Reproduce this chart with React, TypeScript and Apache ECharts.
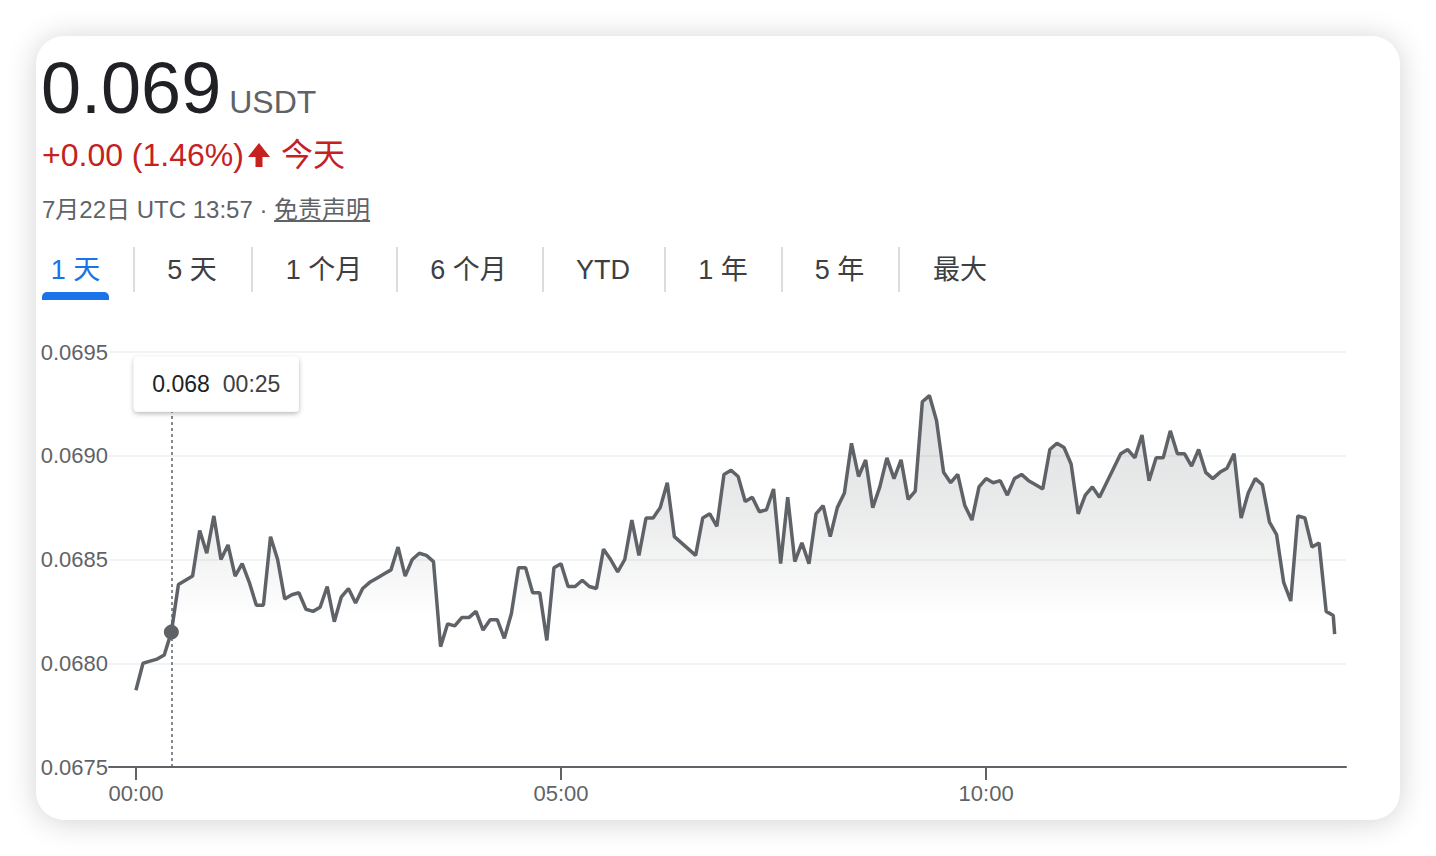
import { useEffect, useRef } from 'react';
import * as echarts from 'echarts';

// 5-minute quotes from 00:00 UTC
const prices = [
  0.06787, 0.06800, 0.06801, 0.06802, 0.06804, 0.06815, 0.06838, 0.06840, 0.06842, 0.06864,
  0.06853, 0.06871, 0.06850, 0.06857, 0.06842, 0.06848, 0.06839, 0.06828, 0.06828, 0.06861,
  0.06850, 0.06831, 0.06833, 0.06834, 0.06826, 0.06825, 0.06827, 0.06837, 0.06820, 0.06832,
  0.06836, 0.06829, 0.06836, 0.06839, 0.06841, 0.06843, 0.06845, 0.06856, 0.06842, 0.06850,
  0.06853, 0.06852, 0.06849, 0.06808, 0.06819, 0.06818, 0.06822, 0.06822, 0.06825, 0.06816,
  0.06821, 0.06821, 0.06812, 0.06824, 0.06846, 0.06846, 0.06834, 0.06834, 0.06811, 0.06846,
  0.06848, 0.06837, 0.06837, 0.06840, 0.06837, 0.06836, 0.06855, 0.06850, 0.06844, 0.06850,
  0.06869, 0.06852, 0.06870, 0.06870, 0.06875, 0.06887, 0.06861, 0.06858, 0.06855, 0.06852,
  0.06870, 0.06872, 0.06866, 0.06891, 0.06893, 0.06890, 0.06878, 0.06880, 0.06873, 0.06874,
  0.06884, 0.06848, 0.06880, 0.06849, 0.06858, 0.06848, 0.06872, 0.06876, 0.06861, 0.06875,
  0.06882, 0.06906, 0.06890, 0.06898, 0.06875, 0.06885, 0.06899, 0.06889, 0.06898, 0.06879,
  0.06883, 0.06926, 0.06929, 0.06917, 0.06892, 0.06887, 0.06891, 0.06876, 0.06869, 0.06885,
  0.06889, 0.06887, 0.06888, 0.06881, 0.06889, 0.06891, 0.06888, 0.06886, 0.06884, 0.06903,
  0.06906, 0.06904, 0.06896, 0.06872, 0.06881, 0.06885, 0.06880, 0.06887, 0.06894, 0.06901,
  0.06903, 0.06899, 0.06910, 0.06888, 0.06899, 0.06899, 0.06912, 0.06901, 0.06901, 0.06895,
  0.06903, 0.06892, 0.06889, 0.06892, 0.06894, 0.06901, 0.06870, 0.06882, 0.06889, 0.06886,
  0.06868, 0.06862, 0.06839, 0.06830, 0.06871, 0.06870, 0.06856, 0.06858, 0.06825, 0.06823,
];
const STEP_MIN = 5;
const lastQuote: [number, number] = [846, 0.06814];

const xTicks = [0, 300, 600];
const yTicks = { min: 0.0675, max: 0.0695, step: 0.0005 };
const tabs = ['1 天', '5 天', '1 个月', '6 个月', 'YTD', '1 年', '5 年', '最大'];
const TIP_INDEX = 5;
const TIP_BOTTOM = 0.06921;

const FONT = 'Arial, "Liberation Sans", "Noto Sans CJK SC", sans-serif';
const GRAY = '#5f6368';

const hhmm = (m: number) =>
  `${String(Math.floor(m / 60)).padStart(2, '0')}:${String(Math.round(m % 60)).padStart(2, '0')}`;

function PriceChart() {
  const ref = useRef<HTMLDivElement>(null);

  useEffect(() => {
    if (!ref.current) return;
    const chart = echarts.init(ref.current, null, { renderer: 'svg' });

    const points = prices.map((p, i) => [i * STEP_MIN, p]);
    points.push(lastQuote);
    const tipX = TIP_INDEX * STEP_MIN;
    const tipY = prices[TIP_INDEX];

    chart.setOption({
      animation: false,
      grid: { left: 73, right: 54, top: 32, bottom: 53 },
      xAxis: {
        type: 'value',
        min: -19,
        max: 854,
        axisLine: { show: true, onZero: false, lineStyle: { color: GRAY, width: 2 } },
        axisTick: { show: true, customValues: xTicks, length: 13, lineStyle: { color: GRAY, width: 2 } },
        axisLabel: {
          customValues: xTicks,
          formatter: (v: number) => hhmm(v),
          color: GRAY,
          fontSize: 22,
          fontFamily: FONT,
          margin: 15,
        },
        splitLine: { show: false },
      },
      yAxis: {
        type: 'value',
        min: yTicks.min,
        max: yTicks.max,
        interval: yTicks.step,
        axisLine: { show: false },
        axisTick: { show: false },
        axisLabel: {
          formatter: (v: number) => v.toFixed(4),
          color: GRAY,
          fontSize: 22,
          fontFamily: FONT,
          margin: 1,
        },
        splitLine: { lineStyle: { color: '#f1f3f4', width: 2 } },
      },
      series: [
        {
          type: 'line',
          data: points,
          symbol: 'none',
          showSymbol: false,
          lineStyle: { color: GRAY, width: 3.5 },
          areaStyle: {
            origin: 'start',
            color: new echarts.graphic.LinearGradient(0, 0, 0, 1, [
              { offset: 0, color: 'rgba(95,99,104,0.28)' },
              { offset: 0.3, color: 'rgba(95,99,104,0.19)' },
              { offset: 0.45, color: 'rgba(95,99,104,0.1)' },
              { offset: 0.6, color: 'rgba(95,99,104,0)' },
              { offset: 1, color: 'rgba(95,99,104,0)' },
            ]),
          },
          markLine: {
            silent: true,
            symbol: ['none', 'none'],
            label: { show: false },
            lineStyle: { color: GRAY, width: 1.5, type: [3, 3] },
            data: [[{ coord: [tipX, yTicks.min] }, { coord: [tipX, TIP_BOTTOM] }]],
          },
          markPoint: {
            silent: true,
            data: [
              {
                coord: [tipX, tipY],
                symbol: 'circle',
                symbolSize: 15,
                itemStyle: { color: GRAY },
                label: { show: false },
              },
              {
                coord: [tipX, TIP_BOTTOM],
                symbol:
                  'path://M4,0 H161 A4,4 0 0 1 165,4 V51 A4,4 0 0 1 161,55 H4 A4,4 0 0 1 0,51 V4 A4,4 0 0 1 4,0 Z',
                symbolSize: [165, 55],
                symbolOffset: [45, -28],
                itemStyle: {
                  color: '#ffffff',
                  shadowBlur: 5,
                  shadowOffsetY: 2,
                  shadowColor: 'rgba(0,0,0,0.28)',
                },
                label: {
                  show: true,
                  position: 'inside',
                  formatter: `{a|${tipY.toFixed(3)}}{s|}{b|${hhmm(tipX)}}`,
                  rich: {
                    a: { color: '#202124', fontSize: 23, fontFamily: FONT },
                    s: { width: 13 },
                    b: { color: '#3c4043', fontSize: 23, fontFamily: FONT },
                  },
                },
              },
            ],
          },
        },
      ],
    });

    return () => chart.dispose();
  }, []);

  return <div ref={ref} style={{ position: 'absolute', left: 0, top: 284, width: 1364, height: 500 }} />;
}

const tabCenters = [75.5, 192, 324, 468.5, 603, 723, 839.5, 960];
const separators = [134, 252, 397, 543, 665, 782, 899];

export default function App() {
  return (
    <div
      style={{
        position: 'absolute',
        left: 0,
        top: 0,
        width: 1436,
        height: 856,
        background: '#ffffff',
        fontFamily: FONT,
        overflow: 'hidden',
      }}
    >
      <div
        style={{
          position: 'absolute',
          left: 36,
          top: 36,
          width: 1364,
          height: 784,
          background: '#ffffff',
          borderRadius: 28,
          boxShadow: '0 2px 30px rgba(0,0,0,0.18)',
          overflow: 'hidden',
        }}
      >
        <div style={{ position: 'absolute', left: 5, top: 16, whiteSpace: 'nowrap', lineHeight: 1 }}>
          <span style={{ fontSize: 72, color: '#202124' }}>0.069</span>
          <span style={{ fontSize: 32, color: GRAY, marginLeft: 8 }}>USDT</span>
        </div>
        <div
          style={{
            position: 'absolute',
            left: 6,
            top: 103,
            fontSize: 32,
            color: '#c5221f',
            whiteSpace: 'nowrap',
            lineHeight: 1,
            display: 'flex',
            alignItems: 'center',
          }}
        >
          <span>+0.00 (1.46%)</span>
          <svg width="24" height="24" viewBox="0 0 24 24" style={{ marginLeft: 3, marginRight: 10 }}>
            <polygon points="1,14 23,14 12,0" fill="#c5221f" />
            <rect x="8.5" y="13" width="7" height="11" fill="#c5221f" />
          </svg>
          <span>今天</span>
        </div>
        <div
          style={{
            position: 'absolute',
            left: 6,
            top: 162,
            fontSize: 24,
            color: GRAY,
            whiteSpace: 'nowrap',
            lineHeight: 1,
          }}
        >
          7月22日 UTC 13:57 · <span style={{ textDecoration: 'underline' }}>免责声明</span>
        </div>
        {tabs.map((t, i) => (
          <div
            key={t}
            style={{
              position: 'absolute',
              left: tabCenters[i] - 36,
              top: 221,
              transform: 'translateX(-50%)',
              fontSize: 27,
              lineHeight: 1,
              whiteSpace: 'nowrap',
              color: i === 0 ? '#1a73e8' : '#3c4043',
            }}
          >
            {t}
          </div>
        ))}
        {separators.map((x) => (
          <div
            key={x}
            style={{ position: 'absolute', left: x - 37, top: 211, width: 2, height: 45, background: '#dadce0' }}
          />
        ))}
        <div
          style={{
            position: 'absolute',
            left: 6,
            top: 256,
            width: 67,
            height: 8,
            background: '#1a73e8',
            borderRadius: '5px 5px 0 0',
          }}
        />
        <PriceChart />
      </div>
    </div>
  );
}
